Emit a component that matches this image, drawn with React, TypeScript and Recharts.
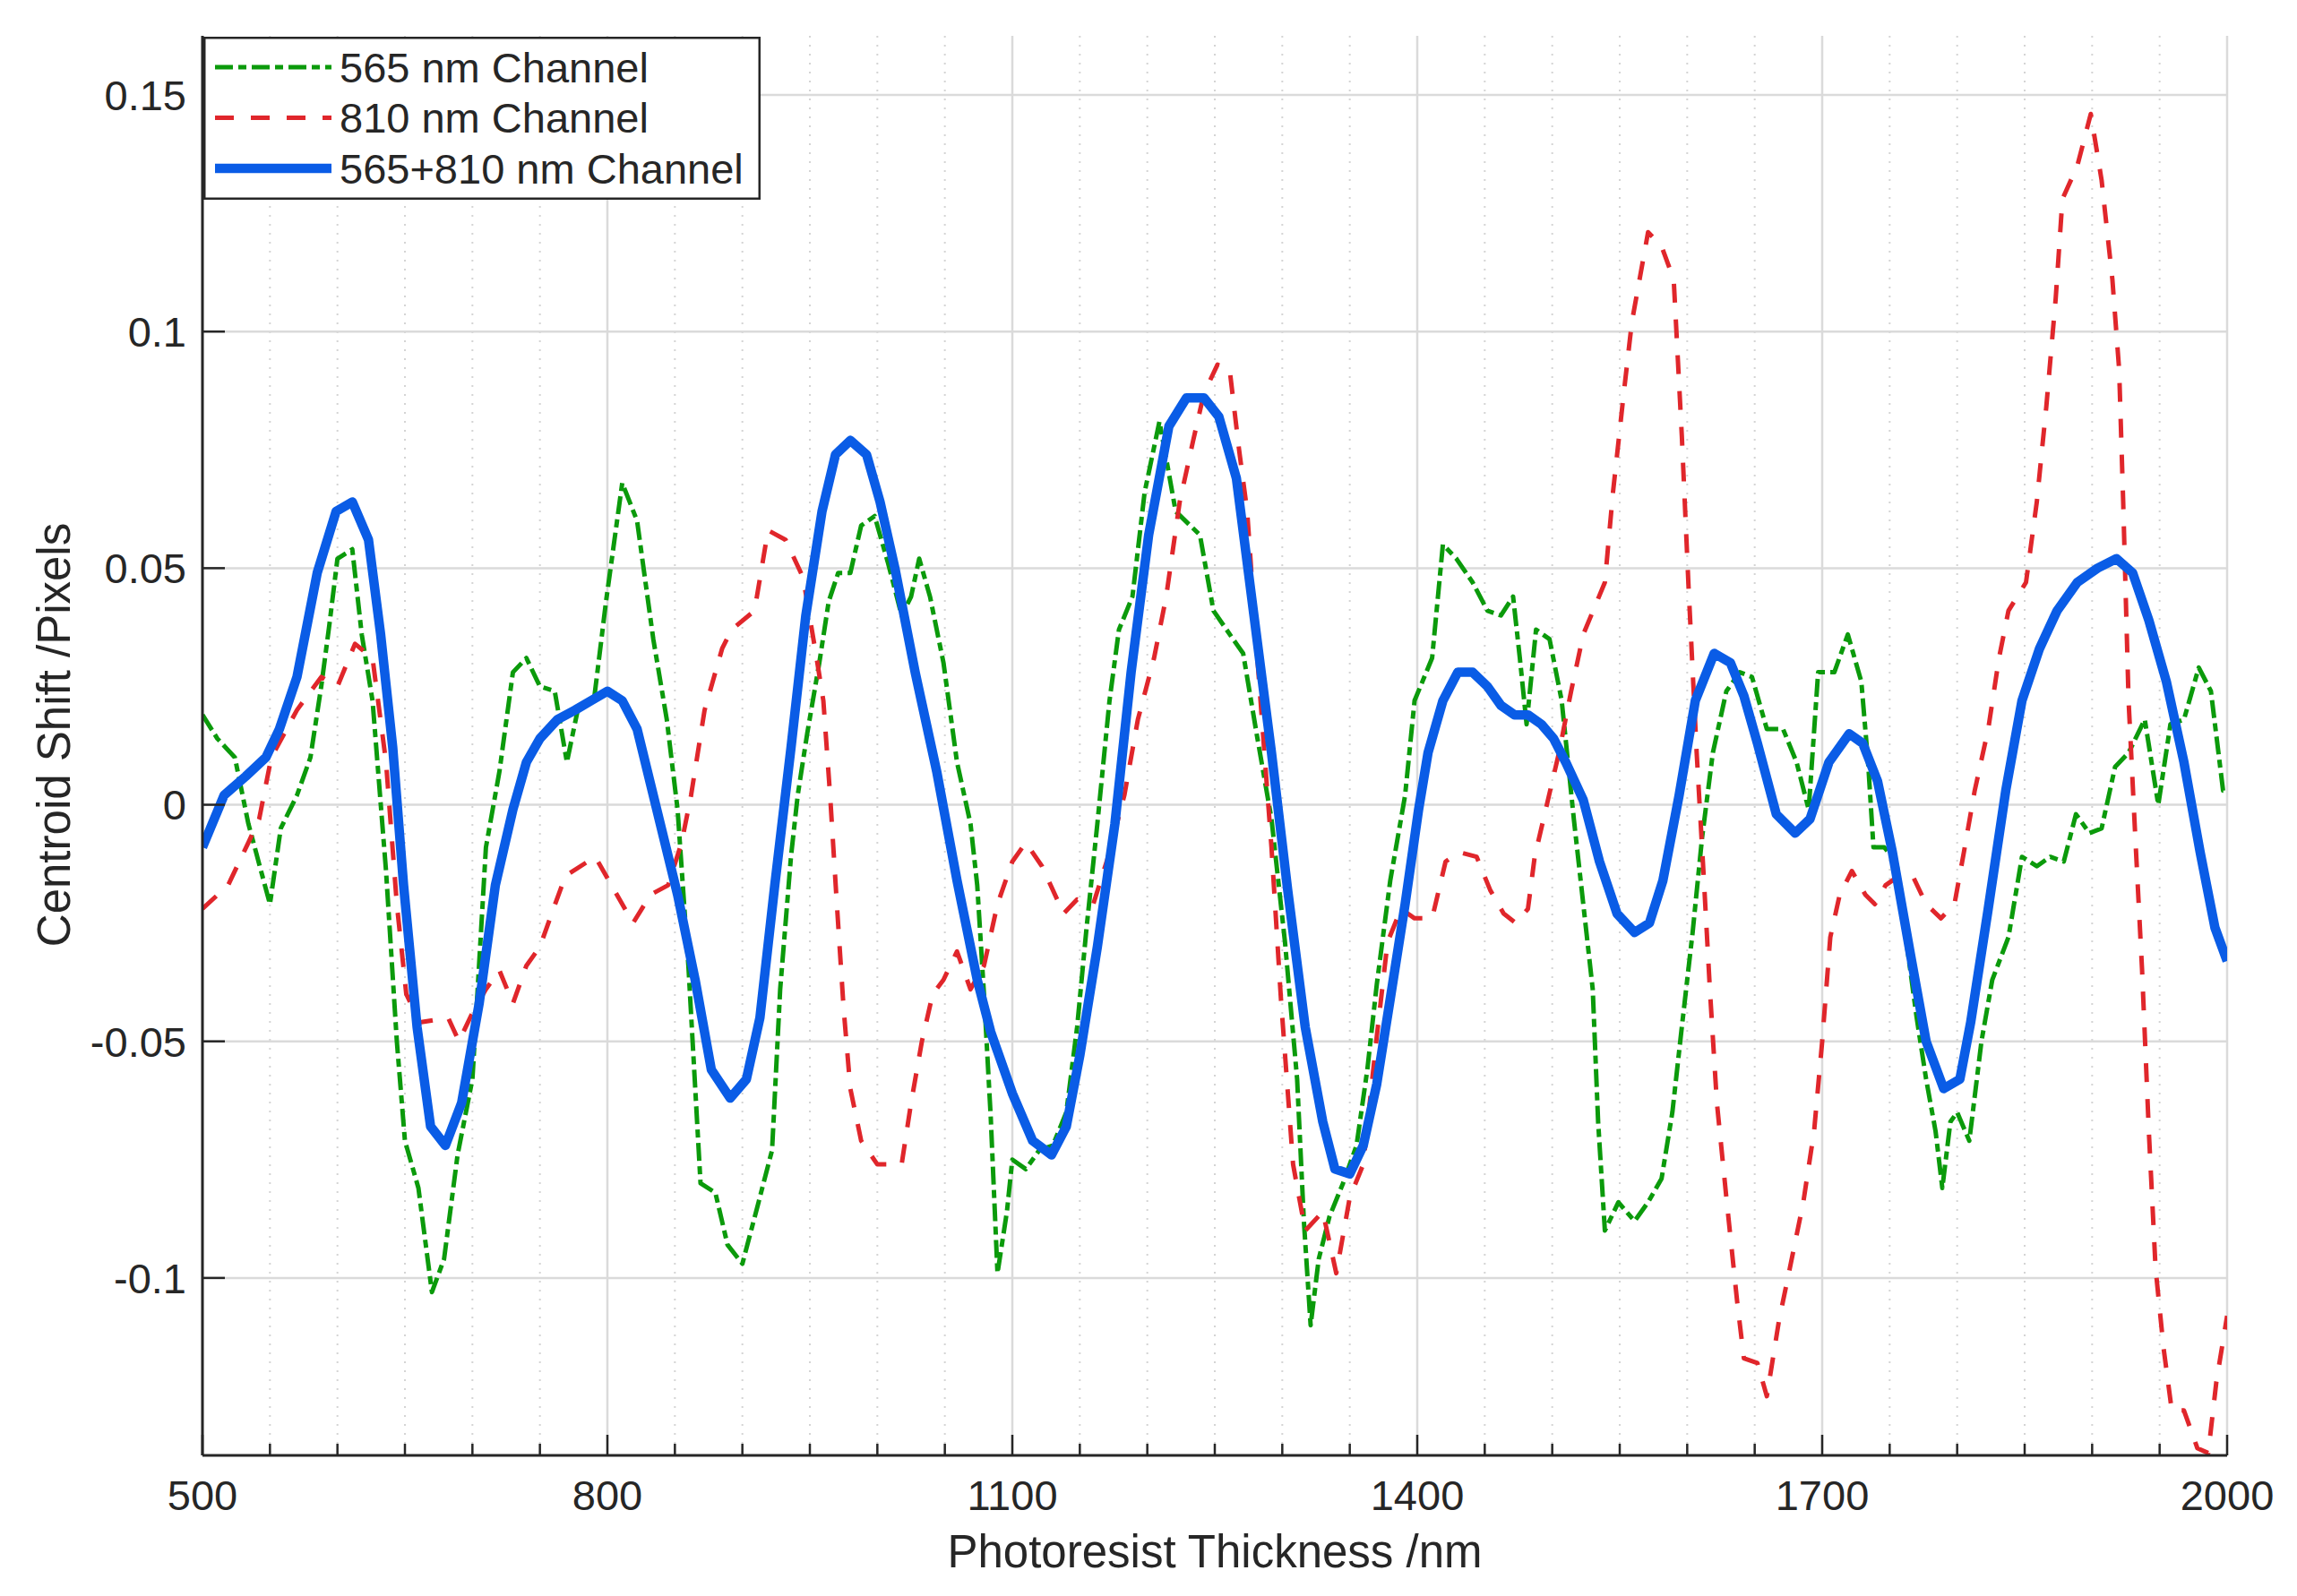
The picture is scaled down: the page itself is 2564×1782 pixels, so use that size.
import React from "react";
import { LineChart, Line, XAxis, YAxis, CartesianGrid, Legend } from "recharts";

// thickness in nm and centroid shift in pixels
const greenX = [500, 511, 524, 534, 550, 558, 570, 580, 588, 594, 600, 611, 618, 626, 636, 644, 650, 660, 670, 679, 689, 700, 710, 720, 730, 740, 750, 761, 770, 778, 790, 799, 811, 822, 834, 844, 852, 860, 869, 880, 889, 900, 912, 922, 928, 936, 941, 948, 957, 964, 971, 980, 988, 998, 1008, 1018, 1025, 1031, 1039, 1049, 1059, 1069, 1074, 1079, 1084, 1089, 1096, 1100, 1110, 1120, 1130, 1140, 1148, 1155, 1163, 1172, 1179, 1189, 1198, 1209, 1216, 1221, 1239, 1249, 1266, 1271, 1281, 1292, 1302, 1311, 1316, 1321, 1327, 1335, 1345, 1355, 1363, 1370, 1380, 1391, 1398, 1411, 1419, 1429, 1441, 1452, 1462, 1471, 1476, 1481, 1488, 1498, 1507, 1516, 1523, 1530, 1534, 1539, 1549, 1561, 1571, 1581, 1589, 1596, 1604, 1611, 1619, 1629, 1639, 1648, 1659, 1671, 1681, 1690, 1697, 1709, 1719, 1729, 1734, 1738, 1746, 1755, 1762, 1770, 1777, 1784, 1789, 1795, 1800, 1809, 1818, 1826, 1838, 1848, 1859, 1869, 1879, 1888, 1898, 1907, 1917, 1927, 1939, 1949, 1958, 1968, 1979, 1988, 1997, 2000];
const greenY = [0.019, 0.014, 0.01, -0.004, -0.021, -0.005, 0.002, 0.01, 0.025, 0.038, 0.052, 0.054, 0.036, 0.022, -0.014, -0.05, -0.071, -0.081, -0.103, -0.096, -0.074, -0.058, -0.009, 0.007, 0.028, 0.031, 0.025, 0.024, 0.009, 0.02, 0.022, 0.043, 0.068, 0.06, 0.035, 0.018, -0.001, -0.034, -0.08, -0.082, -0.093, -0.097, -0.084, -0.073, -0.039, -0.011, 0.002, 0.015, 0.03, 0.043, 0.049, 0.049, 0.059, 0.061, 0.051, 0.04, 0.044, 0.052, 0.044, 0.03, 0.009, -0.004, -0.017, -0.04, -0.066, -0.099, -0.086, -0.075, -0.077, -0.073, -0.072, -0.065, -0.047, -0.026, -0.004, 0.022, 0.037, 0.044, 0.066, 0.081, 0.07, 0.062, 0.057, 0.041, 0.034, 0.032, 0.015, -0.003, -0.029, -0.058, -0.088, -0.11, -0.096, -0.087, -0.08, -0.072, -0.056, -0.038, -0.016, 0.002, 0.022, 0.031, 0.055, 0.052, 0.047, 0.041, 0.04, 0.044, 0.031, 0.017, 0.037, 0.035, 0.022, -0.003, -0.021, -0.039, -0.067, -0.09, -0.084, -0.088, -0.084, -0.079, -0.065, -0.047, -0.027, -0.007, 0.011, 0.024, 0.028, 0.027, 0.016, 0.016, 0.009, -0.001, 0.028, 0.028, 0.036, 0.026, 0.009, -0.009, -0.009, -0.012, -0.028, -0.045, -0.058, -0.069, -0.081, -0.067, -0.065, -0.071, -0.05, -0.037, -0.028, -0.011, -0.013, -0.011, -0.012, -0.002, -0.006, -0.005, 0.008, 0.011, 0.018, 0, 0.017, 0.018, 0.029, 0.024, 0.003, 0.003];

const redX = [500, 519, 534, 542, 551, 570, 588, 600, 613, 626, 636, 644, 651, 661, 682, 690, 700, 710, 720, 730, 740, 750, 760, 769, 791, 801, 819, 832, 845, 855, 862, 872, 885, 892, 909, 919, 932, 945, 955, 960, 965, 970, 975, 980, 988, 1000, 1018, 1025, 1033, 1041, 1049, 1059, 1069, 1079, 1089, 1100, 1110, 1122, 1138, 1148, 1160, 1171, 1183, 1193, 1205, 1214, 1224, 1234, 1242, 1252, 1261, 1268, 1274, 1281, 1292, 1299, 1308, 1317, 1330, 1340, 1350, 1360, 1370, 1378, 1388, 1398, 1411, 1421, 1431, 1444, 1454, 1464, 1473, 1482, 1487, 1496, 1505, 1514, 1523, 1539, 1545, 1553, 1559, 1571, 1581, 1590, 1596, 1601, 1607, 1612, 1617, 1622, 1629, 1637, 1642, 1652, 1659, 1668, 1676, 1686, 1694, 1700, 1706, 1713, 1722, 1732, 1739, 1747, 1757, 1767, 1777, 1788, 1798, 1805, 1813, 1823, 1831, 1838, 1851, 1859, 1866, 1873, 1878, 1889, 1899, 1907, 1915, 1920, 1923, 1927, 1932, 1937, 1942, 1947, 1953, 1959, 1968, 1978, 1986, 1992, 2000];
const redY = [-0.022, -0.017, -0.008, -0.003, 0.01, 0.02, 0.027, 0.025, 0.034, 0.031, 0.009, -0.021, -0.04, -0.046, -0.045, -0.05, -0.044, -0.039, -0.035, -0.042, -0.034, -0.03, -0.022, -0.015, -0.011, -0.016, -0.025, -0.019, -0.017, -0.008, 0.002, 0.02, 0.033, 0.037, 0.041, 0.058, 0.056, 0.048, 0.031, 0.022, 0.002, -0.021, -0.043, -0.06, -0.071, -0.076, -0.076, -0.063, -0.05, -0.04, -0.037, -0.031, -0.039, -0.034, -0.021, -0.012, -0.008, -0.013, -0.023, -0.02, -0.021, -0.011, 0.002, 0.018, 0.031, 0.044, 0.064, 0.077, 0.087, 0.093, 0.092, 0.075, 0.062, 0.033, -0.009, -0.041, -0.076, -0.09, -0.086, -0.099, -0.083, -0.076, -0.049, -0.029, -0.022, -0.024, -0.024, -0.012, -0.01, -0.011, -0.018, -0.023, -0.025, -0.022, -0.011, 0, 0.011, 0.024, 0.036, 0.047, 0.066, 0.087, 0.102, 0.121, 0.118, 0.111, 0.078, 0.046, 0.011, -0.014, -0.04, -0.063, -0.083, -0.105, -0.117, -0.118, -0.125, -0.109, -0.098, -0.084, -0.069, -0.05, -0.028, -0.019, -0.014, -0.019, -0.021, -0.017, -0.015, -0.015, -0.021, -0.024, -0.021, -0.01, 0.003, 0.016, 0.031, 0.041, 0.047, 0.064, 0.084, 0.107, 0.128, 0.135, 0.146, 0.132, 0.111, 0.092, 0.064, 0.022, -0.007, -0.035, -0.069, -0.098, -0.115, -0.128, -0.128, -0.136, -0.137, -0.122, -0.108];

const blueX = [500, 516, 532, 547, 557, 570, 585, 599, 611, 623, 632, 641, 649, 659, 669, 680, 692, 705, 717, 730, 740, 750, 763, 776, 788, 800, 811, 822, 834, 852, 865, 877, 891, 903, 913, 924, 936, 947, 959, 969, 980, 992, 1002, 1013, 1028, 1044, 1059, 1074, 1084, 1100, 1115, 1129, 1140, 1150, 1163, 1176, 1188, 1201, 1216, 1229, 1242, 1253, 1266, 1279, 1292, 1304, 1317, 1330, 1339, 1350, 1360, 1370, 1380, 1391, 1401, 1408, 1419, 1430, 1441, 1452, 1462, 1472, 1482, 1492, 1501, 1510, 1523, 1535, 1548, 1561, 1572, 1582, 1594, 1606, 1620, 1632, 1642, 1652, 1666, 1680, 1691, 1705, 1720, 1730, 1741, 1752, 1765, 1777, 1790, 1802, 1810, 1823, 1836, 1848, 1861, 1874, 1889, 1904, 1918, 1930, 1942, 1955, 1968, 1980, 1991, 2000];
const blueY = [-0.009, 0.002, 0.006, 0.01, 0.016, 0.027, 0.049, 0.062, 0.064, 0.056, 0.036, 0.012, -0.017, -0.047, -0.068, -0.072, -0.063, -0.042, -0.017, -0.001, 0.009, 0.014, 0.018, 0.02, 0.022, 0.024, 0.022, 0.016, 0.002, -0.019, -0.037, -0.056, -0.062, -0.058, -0.045, -0.017, 0.012, 0.04, 0.062, 0.074, 0.077, 0.074, 0.064, 0.05, 0.028, 0.007, -0.016, -0.037, -0.048, -0.061, -0.071, -0.074, -0.068, -0.053, -0.03, -0.004, 0.028, 0.057, 0.08, 0.086, 0.086, 0.082, 0.069, 0.04, 0.011, -0.018, -0.047, -0.067, -0.077, -0.078, -0.072, -0.059, -0.041, -0.021, -0.001, 0.011, 0.022, 0.028, 0.028, 0.025, 0.021, 0.019, 0.019, 0.017, 0.014, 0.009, 0.001, -0.012, -0.023, -0.027, -0.025, -0.016, 0.002, 0.022, 0.032, 0.03, 0.023, 0.013, -0.002, -0.006, -0.003, 0.009, 0.015, 0.013, 0.005, -0.01, -0.031, -0.05, -0.06, -0.058, -0.046, -0.022, 0.003, 0.022, 0.033, 0.041, 0.047, 0.05, 0.052, 0.049, 0.039, 0.026, 0.009, -0.01, -0.026, -0.033];

const xLabelTicks = [500, 800, 1100, 1400, 1700, 2000];
const xMinorTicks = [500, 550, 600, 650, 700, 750, 800, 850, 900, 950, 1000, 1050, 1100, 1150, 1200, 1250, 1300, 1350, 1400, 1450, 1500, 1550, 1600, 1650, 1700, 1750, 1800, 1850, 1900, 1950, 2000];
const yTicks = [-0.1, -0.05, 0, 0.05, 0.1, 0.15];

const toPoints = (xs: number[], ys: number[]) => xs.map((x, i) => ({ x, y: ys[i] }));

const series = [
  { name: "565 nm Channel", data: toPoints(greenX, greenY), color: "#0b9a0b", width: 5, dash: "20 6 9 6" },
  { name: "810 nm Channel", data: toPoints(redX, redY), color: "#e0262b", width: 5, dash: "21 19" },
  { name: "565+810 nm Channel", data: toPoints(blueX, blueY), color: "#0a5ce6", width: 10.5, dash: undefined },
];

const FONT = "'Liberation Sans', Arial, sans-serif";
const INK = "#262626";
const isMajor = (v: number) => xLabelTicks.includes(v);

function BottomTick({ x, y, payload }: any) {
  const len = isMajor(payload.value) ? 23 : 13;
  return (
    <g>
      <line x1={x} x2={x} y1={y} y2={y - len} stroke={INK} strokeWidth={2.5} />
      {isMajor(payload.value) && (
        <text x={x} y={y + 61} textAnchor="middle" fontSize={47} fontFamily={FONT} fill={INK}>
          {payload.value}
        </text>
      )}
    </g>
  );
}

function TopTick({ x, y, payload }: any) {
  const len = isMajor(payload.value) ? 23 : 13;
  return <line x1={x} x2={x} y1={y} y2={y + len} stroke={INK} strokeWidth={2.5} />;
}

function LeftTick({ x, y, payload }: any) {
  return (
    <g>
      <line x1={x} x2={x + 25} y1={y} y2={y} stroke={INK} strokeWidth={2.5} />
      <text x={x - 18} y={y} dy="0.36em" textAnchor="end" fontSize={47} fontFamily={FONT} fill={INK}>
        {String(payload.value)}
      </text>
    </g>
  );
}

function RightTick({ x, y }: any) {
  return <line x1={x} x2={x - 25} y1={y} y2={y} stroke={INK} strokeWidth={2.5} />;
}

function LegendBox() {
  return (
    <svg width={622} height={182} style={{ display: "block" }}>
      <rect x={1.25} y={1.25} width={619.5} height={179.5} fill="#fff" stroke={INK} strokeWidth={2.5} />
      {series.map((s, i) => {
        const cy = 34 + i * 56.5;
        return (
          <g key={s.name}>
            <line x1={13} x2={143} y1={cy} y2={cy} stroke={s.color} strokeWidth={s.width} strokeDasharray={s.dash} />
            <text x={152} y={cy} dy="0.36em" fontSize={47} fontFamily={FONT} fill={INK}>
              {s.name}
            </text>
          </g>
        );
      })}
    </svg>
  );
}

export default function App() {
  return (
    <div style={{ width: 2548, height: 1766 }}>
      <LineChart width={2548} height={1766} margin={{ top: 32, right: 70, bottom: 0, left: 0 }}>
        <CartesianGrid
          horizontal={false}
          verticalValues={xMinorTicks.filter((v) => !isMajor(v))}
          stroke="#d4d4d4"
          strokeWidth={2}
          strokeDasharray="2 8"
        />
        <CartesianGrid verticalValues={xLabelTicks} horizontalValues={yTicks} stroke="#dadada" strokeWidth={2.5} />
        <XAxis
          dataKey="x"
          type="number"
          domain={[500, 2000]}
          ticks={xMinorTicks}
          interval={0}
          height={149}
          tickSize={0}
          tickMargin={0}
          tickLine={false}
          tick={<BottomTick />}
          axisLine={{ stroke: INK, strokeWidth: 3 }}
          allowDataOverflow
          label={(p: any) => (
            <text
              x={p.viewBox.x + p.viewBox.width / 2}
              y={p.viewBox.y + 125}
              textAnchor="middle"
              fontSize={51}
              fontFamily={FONT}
              fill={INK}
            >
              Photoresist Thickness /nm
            </text>
          )}
        />
        <XAxis
          xAxisId="top"
          orientation="top"
          type="number"
          domain={[500, 2000]}
          ticks={xMinorTicks}
          interval={0}
          height={0}
          tickSize={0}
          tickMargin={0}
          tickLine={false}
          tick={<TopTick />}
          axisLine={{ stroke: INK, strokeWidth: 3 }}
          allowDataOverflow
        />
        <YAxis
          type="number"
          domain={[-0.1375, 0.1625]}
          ticks={yTicks}
          interval={0}
          width={218}
          tickSize={0}
          tickMargin={0}
          tickLine={false}
          tick={<LeftTick />}
          axisLine={{ stroke: INK, strokeWidth: 3 }}
          allowDataOverflow
          label={(p: any) => {
            const lx = p.viewBox.x + 70;
            const ly = p.viewBox.y + p.viewBox.height / 2 - 12;
            return (
              <text
                x={lx}
                y={ly}
                transform={`rotate(-90, ${lx}, ${ly})`}
                textAnchor="middle"
                fontSize={51}
                fontFamily={FONT}
                fill={INK}
              >
                Centroid Shift /Pixels
              </text>
            );
          }}
        />
        <YAxis
          yAxisId="right"
          orientation="right"
          type="number"
          domain={[-0.1375, 0.1625]}
          ticks={yTicks}
          interval={0}
          width={0}
          tickSize={0}
          tickMargin={0}
          tickLine={false}
          tick={<RightTick />}
          axisLine={{ stroke: INK, strokeWidth: 3 }}
          allowDataOverflow
        />
        <Legend
          align="center"
          verticalAlign="middle"
          content={() => <LegendBox />}
          wrapperStyle={{ left: 219, top: 33, width: 622, height: 182 }}
        />
        {series.map((s) => (
          <Line
            key={s.name}
            data={s.data}
            dataKey="y"
            name={s.name}
            type="linear"
            stroke={s.color}
            strokeWidth={s.width}
            strokeDasharray={s.dash}
            strokeLinejoin="round"
            dot={false}
            activeDot={false}
            isAnimationActive={false}
          />
        ))}
      </LineChart>
    </div>
  );
}
